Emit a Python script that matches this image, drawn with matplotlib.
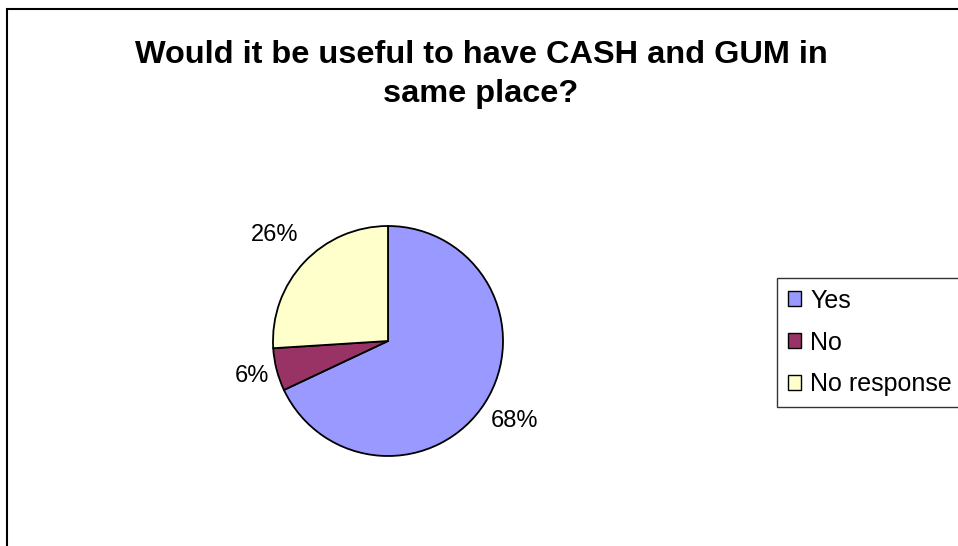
import matplotlib
matplotlib.use("Agg")
import matplotlib.pyplot as plt
import numpy as np
from matplotlib.patches import Rectangle, Patch

plt.rcParams['font.family'] = ['Liberation Sans', 'DejaVu Sans']

# Survey answers (percent of respondents)
categories = ["Yes", "No", "No response"]
values = [68, 6, 26]
colors = ["#9999FF", "#993366", "#FFFFCC"]
title_text = "Would it be useful to have CASH and GUM in\nsame place?"

# radial distance of each percentage label, in pie radii
label_radii = [1.30, 1.22, 1.35]

W, H, DPI = 958, 546, 100
fig = plt.figure(figsize=(W / DPI, H / DPI), dpi=DPI)
fig.patch.set_facecolor("white")

# chart-area frame (only top and left edges fall inside the canvas)
fig.add_artist(Rectangle((6.5 / W, -0.2), 1.5, 1.2 - 8.5 / H, transform=fig.transFigure,
                         fill=False, edgecolor="black", linewidth=1.5, clip_on=False))

fig.text(481 / W, 1 - 74.5 / H, title_text, ha="center", va="center",
         fontsize=23.4, fontweight="bold", linespacing=1.36)

# pie: centre (388, 341) px, radius 115 px
cx, cy, r = 388, 341, 115
ax = fig.add_axes([(cx - r) / W, (H - cy - r) / H, 2 * r / W, 2 * r / H])
wedges, _ = ax.pie(values, colors=colors, startangle=90, counterclock=False,
                   wedgeprops=dict(edgecolor="black", linewidth=1.3))
ax.set_xlim(-1, 1)
ax.set_ylim(-1, 1)
ax.set_aspect("equal")
ax.axis("off")

for w, v, d in zip(wedges, values, label_radii):
    ang = np.deg2rad((w.theta1 + w.theta2) / 2)
    ax.text(d * np.cos(ang), d * np.sin(ang), f"{v}%", ha="center", va="center",
            fontsize=17, clip_on=False)

handles = [Patch(facecolor=c, edgecolor="black", linewidth=1.0) for c in colors]
leg = fig.legend(handles, categories, loc="upper left",
                 bbox_to_anchor=(777 / W, 1 - 278 / H), fontsize=18,
                 frameon=True, fancybox=False, edgecolor="black",
                 handlelength=0.55, handleheight=0.55, handletextpad=0.36,
                 labelspacing=0.72, borderpad=0.42, borderaxespad=0)
leg.get_frame().set_linewidth(1.0)

fig.savefig("out.png", dpi=DPI, facecolor="white")
